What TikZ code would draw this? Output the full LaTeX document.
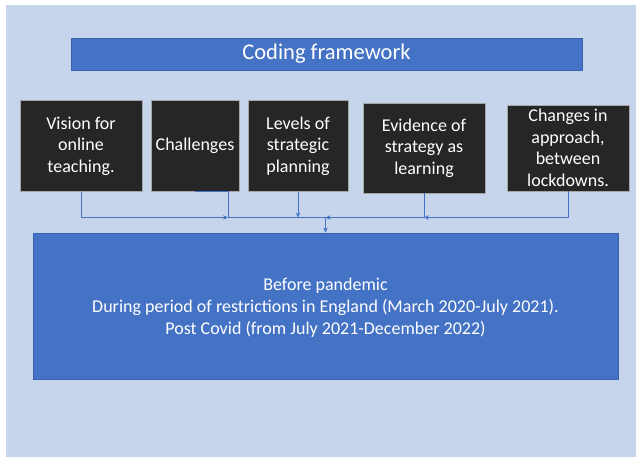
\documentclass[tikz,border=0pt]{standalone}
\usepackage{fontspec}
\setmainfont{Carlito}
\usetikzlibrary{arrows.meta}
\definecolor{bgblue}{HTML}{C7D5EC}
\definecolor{office}{HTML}{4472C4}
\definecolor{officedark}{HTML}{3A62AA}
\definecolor{boxblack}{HTML}{262626}
\tikzset{
  x=1pt, y=-1pt,
  catbox/.style={fill=boxblack, draw=gray!70, line width=0.5pt, text=white, align=center,
    inner sep=0pt, font=\fontsize{18}{21.6}\selectfont},
  bluebox/.style={fill=office, draw=officedark, line width=0.6pt, text=white, align=center, inner sep=0pt},
  conn/.style={draw=office, line width=0.8pt},
  tip/.style={-{Stealth[length=5pt,width=4.5pt]}}
}
\begin{document}
\begin{tikzpicture}
\useasboundingbox (0,0) rectangle (636,457);
\fill[white] (0,0) rectangle (636,457);
\fill[bgblue] (6,5) rectangle (636,457);
\node[bluebox, minimum width=511pt, minimum height=32pt, font=\fontsize{22.5}{27}\selectfont] (title) at (326.5,54) {Coding framework};
\node[catbox, minimum width=122pt, minimum height=91pt] (b1) at (81,146) {Vision for\\online\\teaching.};
\node[catbox, minimum width=88pt, minimum height=91pt] (b2) at (195,146) {Challenges};
\node[catbox, minimum width=100pt, minimum height=91pt] (b3) at (298,146) {Levels of\\strategic\\planning};
\node[catbox, minimum width=122pt, minimum height=90pt] (b4) at (424,148) {Evidence of\\strategy as\\learning};
\node[catbox, minimum width=122pt, minimum height=86pt] (b5) at (568,148) {Changes in\\approach,\\between\\lockdowns.};
\node[bluebox, minimum width=585pt, minimum height=146pt] (big) at (325.5,306) {};
\node[text=white, align=center, inner sep=0pt, font=\fontsize{18}{22}\selectfont] (bigtext) at (325.5,308)
  {Before pandemic\\During period of restrictions in England (March 2020-July 2021).\\Post Covid (from July 2021-December 2022)};
\coordinate (jA) at (228,217.5);
\coordinate (jB) at (b3.south |- jA);
\coordinate (jC) at (big.north |- jA);
\coordinate (jD) at (b4.south |- jA);
\draw[conn, tip] (b1.south) |- (jA);
\draw[conn] (b2.south) -| (jA);
\draw[conn, tip] (b3.south) -- (jB);
\draw[conn] (jA) -- (jC);
\draw[conn, tip] (jD) -- (jC);
\draw[conn, tip] (b5.south) |- (jD);
\draw[conn] (b4.south) -- (jD);
\draw[conn, tip] (jC) -- (big.north);
\end{tikzpicture}
\end{document}
